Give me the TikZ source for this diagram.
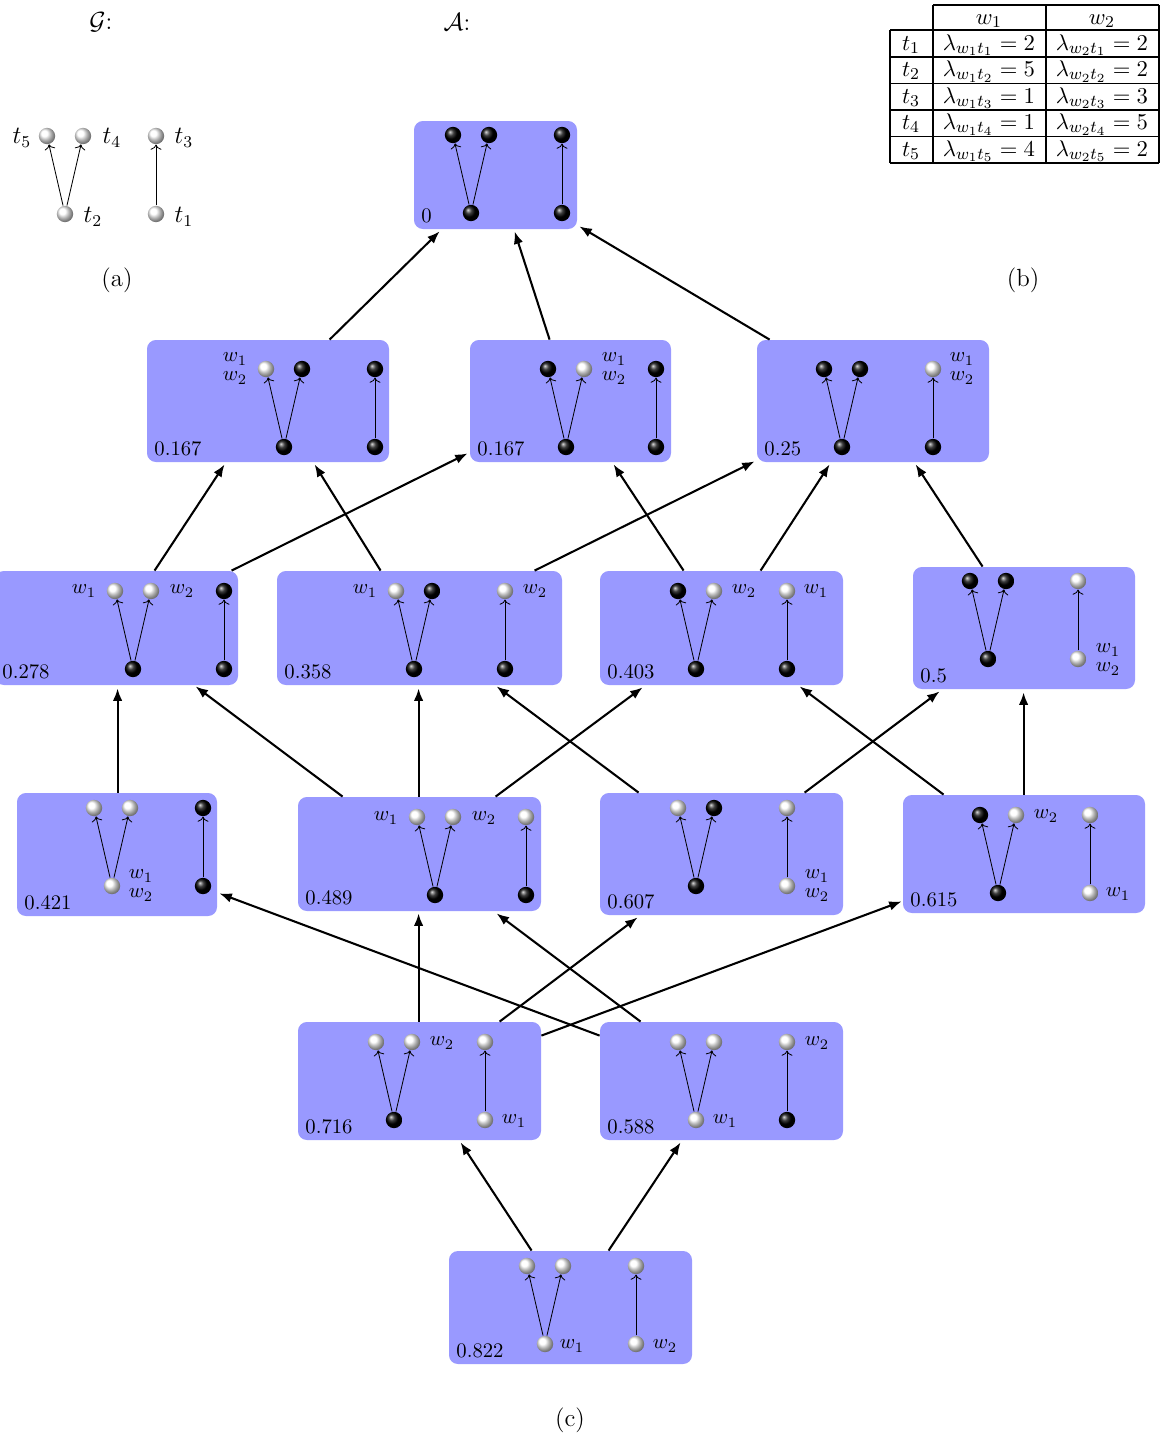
\documentclass[tikz,border=0pt]{standalone}
\usetikzlibrary{arrows.meta,calc,shadings}
\tikzset{
  x=0.483pt, y=-0.483pt,
  box/.style={fill=blue!40, rounded corners=4.3pt, inner sep=0pt, draw=none},
  ball/.style={circle, shading=ball, minimum size=7.9pt, inner sep=0pt},
  inedge/.style={->, line width=0.4pt},
  conn/.style={-{Latex[length=6pt,width=4.6pt]}, line width=1pt},
  val/.style={anchor=base west, inner sep=0pt},
  lab/.style={inner sep=0pt},
  tlab/.style={inner sep=0pt, font=\large},
  cell/.style={anchor=base, inner sep=0pt, font=\fontsize{10.95}{13}\selectfont},
}
\newcommand\vgrp[9]{%
  \node[ball,ball color=#5] (#1a) at (#2-18,#3) {};
  \node[ball,ball color=#6] (#1b) at (#2+18,#3) {};
  \node[ball,ball color=#7] (#1c) at (#2,#3+78) {};
  \node[ball,ball color=#8] (#1d) at (#4,#3) {};
  \node[ball,ball color=#9] (#1e) at (#4,#3+78) {};
  \draw[inedge] (#1c) -- (#1a);
  \draw[inedge] (#1c) -- (#1b);
  \draw[inedge] (#1e) -- (#1d);
}
\newcommand\mkbox[6]{%
  \node[box,minimum width={(#4-(#2))*0.483pt},minimum height={(#5-(#3))*0.483pt}] (#1) at ({(#2+#4)/2},{(#3+#5)/2}) {};
  \node[val] (#1v) at (#2+7,#5-7) {#6};
}
\begin{document}
\begin{tikzpicture}
\useasboundingbox (0,0) rectangle (1165,1437);

% ---------- (a) graph G ----------
\node[tlab] (Gt) at (101,22) {$\mathcal{G}$:};
\vgrp{G}{65}{136}{156}{white}{white}{white}{white}{white}
\node[tlab] (t5) at (22,138) {$t_5$};
\node[tlab] (t4) at (112,138) {$t_4$};
\node[tlab] (t3) at (184,138) {$t_3$};
\node[tlab] (t2) at (93,217) {$t_2$};
\node[tlab] (t1) at (184,217) {$t_1$};
\node[tlab] (capa) at (117,280) {(a)};
\node[tlab] (At) at (457,22) {$\mathcal{A}$:};
\node[tlab] (capb) at (1023,280) {(b)};
\node[tlab] (capc) at (570,1420) {(c)};

% ---------- (b) table ----------
\draw[line width=0.8pt]
  (933,5) -- (1159,5)
  (890,30) -- (1159,30)
  (890,57) -- (1159,57)
  (890,83.5) -- (1159,83.5)
  (890,110) -- (1159,110)
  (890,136.5) -- (1159,136.5)
  (890,163) -- (1159,163)
  (890,30) -- (890,163)
  (933,5) -- (933,163)
  (1046,5) -- (1046,163)
  (1159,5) -- (1159,163);
\node[cell] (h1) at (989,24) {$w_1$};
\node[cell] (h2) at (1102,24) {$w_2$};
\node[cell] (r1) at (911,50) {$t_1$};
\node[cell] (r1a) at (989,50) {$\lambda_{w_1t_1}=2$};
\node[cell] (r1b) at (1102,50) {$\lambda_{w_2t_1}=2$};
\node[cell] (r2) at (911,76.5) {$t_2$};
\node[cell] (r2a) at (989,76.5) {$\lambda_{w_1t_2}=5$};
\node[cell] (r2b) at (1102,76.5) {$\lambda_{w_2t_2}=2$};
\node[cell] (r3) at (911,103) {$t_3$};
\node[cell] (r3a) at (989,103) {$\lambda_{w_1t_3}=1$};
\node[cell] (r3b) at (1102,103) {$\lambda_{w_2t_3}=3$};
\node[cell] (r4) at (911,129.5) {$t_4$};
\node[cell] (r4a) at (989,129.5) {$\lambda_{w_1t_4}=1$};
\node[cell] (r4b) at (1102,129.5) {$\lambda_{w_2t_4}=5$};
\node[cell] (r5) at (911,156) {$t_5$};
\node[cell] (r5a) at (989,156) {$\lambda_{w_1t_5}=4$};
\node[cell] (r5b) at (1102,156) {$\lambda_{w_2t_5}=2$};

% ---------- (c) lattice boxes ----------
\mkbox{A}{414}{121}{577}{229}{0}
\mkbox{B1}{147}{340}{389}{462}{0.167}
\mkbox{B2}{470}{340}{671}{462}{0.167}
\mkbox{B3}{757}{340}{989}{462}{0.25}
\mkbox{C1}{-5}{571}{238}{685}{0.278}
\mkbox{C2}{277}{571}{562}{685}{0.358}
\mkbox{C3}{600}{571}{843}{685}{0.403}
\mkbox{C4}{913}{567}{1135}{689}{0.5}
\mkbox{D1}{17}{793}{217}{916}{0.421}
\mkbox{D2}{298}{797}{541}{911}{0.489}
\mkbox{D3}{600}{793}{843}{915}{0.607}
\mkbox{D4}{903}{795}{1145}{913}{0.615}
\mkbox{E1}{298}{1022}{541}{1140}{0.716}
\mkbox{E2}{600}{1022}{843}{1140}{0.588}
\mkbox{F}{449}{1251}{692}{1364}{0.822}

% ---------- graphs inside boxes ----------
\vgrp{Ag}{471}{135}{562}{black}{black}{black}{black}{black}
\vgrp{B1g}{284}{369}{375}{white}{black}{black}{black}{black}
\vgrp{B2g}{566}{369}{656}{black}{white}{black}{black}{black}
\vgrp{B3g}{842}{369}{933}{black}{black}{black}{white}{black}
\vgrp{C1g}{133}{591}{224}{white}{white}{black}{black}{black}
\vgrp{C2g}{414}{591}{505}{white}{black}{black}{white}{black}
\vgrp{C3g}{696}{591}{787}{black}{white}{black}{white}{black}
\vgrp{C4g}{988}{581}{1078}{black}{black}{black}{white}{white}
\vgrp{D1g}{112}{808}{203}{white}{white}{white}{black}{black}
\vgrp{D2g}{435}{817}{526}{white}{white}{black}{white}{black}
\vgrp{D3g}{696}{808}{787}{white}{black}{black}{white}{white}
\vgrp{D4g}{998}{815}{1090}{black}{white}{black}{white}{white}
\vgrp{E1g}{394}{1042}{485}{white}{white}{black}{white}{white}
\vgrp{E2g}{696}{1042}{787}{white}{white}{white}{white}{black}
\vgrp{Fg}{545}{1266}{636}{white}{white}{white}{white}{white}

% ---------- w labels ----------
\node[lab] (B1w1) at (235,359) {$w_1$};
\node[lab] (B1w2) at (235,378) {$w_2$};
\node[lab] (B2w1) at (614,359) {$w_1$};
\node[lab] (B2w2) at (614,378) {$w_2$};
\node[lab] (B3w1) at (962,359) {$w_1$};
\node[lab] (B3w2) at (962,378) {$w_2$};
\node[lab] (C1w1) at (84,591) {$w_1$};
\node[lab] (C1w2) at (182,591) {$w_2$};
\node[lab] (C2w1) at (365,591) {$w_1$};
\node[lab] (C2w2) at (535,591) {$w_2$};
\node[lab] (C3w2) at (744,591) {$w_2$};
\node[lab] (C3w1) at (816,591) {$w_1$};
\node[lab] (C4w1) at (1108,650) {$w_1$};
\node[lab] (C4w2) at (1108,669) {$w_2$};
\node[lab] (D1w1) at (141,876) {$w_1$};
\node[lab] (D1w2) at (141,895) {$w_2$};
\node[lab] (D2w1) at (386,818) {$w_1$};
\node[lab] (D2w2) at (484,818) {$w_2$};
\node[lab] (D3w1) at (817,876) {$w_1$};
\node[lab] (D3w2) at (817,895) {$w_2$};
\node[lab] (D4w2) at (1046,816) {$w_2$};
\node[lab] (D4w1) at (1118,894) {$w_1$};
\node[lab] (E1w2) at (442,1043) {$w_2$};
\node[lab] (E1w1) at (514,1121) {$w_1$};
\node[lab] (E2w1) at (725,1121) {$w_1$};
\node[lab] (E2w2) at (817,1043) {$w_2$};
\node[lab] (Fw1) at (572,1346) {$w_1$};
\node[lab] (Fw2) at (665,1346) {$w_2$};

% ---------- connectors ----------
\draw[conn] ($(B1.north west)+(183,0)$) -- ($(A.south west)+(26,2)$);
\draw[conn] ($(B2.north west)+(80,0)$) -- ($(A.south west)+(101,2)$);
\draw[conn] ($(B3.north west)+(13,0)$) -- ($(A.south east)+(2,-3)$);
\draw[conn] ($(C1.north west)+(160,0)$) -- ($(B1.south west)+(78,2)$);
\draw[conn] ($(C1.north west)+(237,0)$) -- ($(B2.south west)+(-2,-9)$);
\draw[conn] ($(C2.north west)+(104,0)$) -- ($(B1.south west)+(168,2)$);
\draw[conn] ($(C2.north west)+(258,0)$) -- ($(B3.south west)+(-2,-1)$);
\draw[conn] ($(C3.north west)+(84,0)$) -- ($(B2.south west)+(144,2)$);
\draw[conn] ($(C3.north west)+(161,0)$) -- ($(B3.south west)+(73,2)$);
\draw[conn] ($(C4.north west)+(70,0)$) -- ($(B3.south west)+(159,2)$);
\draw[conn] ($(D1.north west)+(101,0)$) -- ($(C1.south west)+(123,3)$);
\draw[conn] ($(D2.north west)+(45,0)$) -- ($(C1.south west)+(201,1)$);
\draw[conn] ($(D2.north west)+(121,0)$) -- ($(C2.south west)+(142,3)$);
\draw[conn] ($(D2.north west)+(198,0)$) -- ($(C3.south west)+(43,2)$);
\draw[conn] ($(D3.north west)+(39,0)$) -- ($(C2.south west)+(220,1)$);
\draw[conn] ($(D3.north west)+(205,0)$) -- ($(C4.south west)+(27,2)$);
\draw[conn] ($(D4.north west)+(41,0)$) -- ($(C3.south west)+(200,1)$);
\draw[conn] ($(D4.north west)+(121,0)$) -- ($(C4.south west)+(111,3)$);
\draw[conn] ($(E1.north west)+(121,0)$) -- ($(D2.south west)+(121,2)$);
\draw[conn] ($(E1.north west)+(202,0)$) -- ($(D3.south west)+(38,2)$);
\draw[conn] ($(E1.north east)+(0,14)$) -- ($(D4.south west)+(-1,-12)$);
\draw[conn] ($(E2.north west)+(41,0)$) -- ($(D2.south west)+(199,2)$);
\draw[conn] ($(E2.north west)+(0,14)$) -- ($(D1.south east)+(2,-23)$);
\draw[conn] ($(F.north west)+(83,0)$) -- ($(E1.south west)+(163,2)$);
\draw[conn] ($(F.north west)+(160,0)$) -- ($(E2.south west)+(81,2)$);
\end{tikzpicture}
\end{document}
